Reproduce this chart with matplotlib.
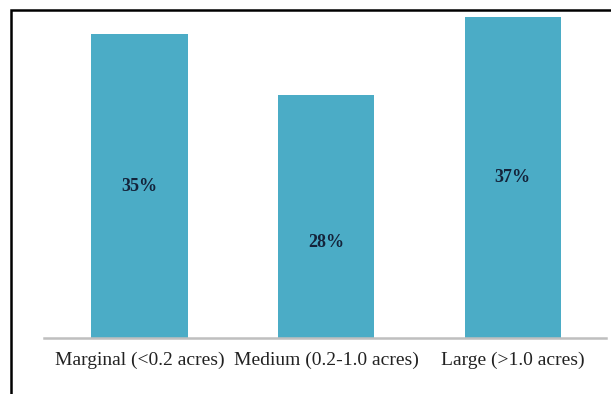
import matplotlib.pyplot as plt
from matplotlib.patches import Rectangle

# Data
categories = ["Marginal (<0.2 acres)", "Medium (0.2-1.0 acres)", "Large (>1.0 acres)"]
shares = [35, 28, 37]
labels = ["35%", "28%", "37%"]
label_y = [17.5, 11.0, 18.5]

fig = plt.figure(figsize=(6.11, 3.94), dpi=100)
ax = fig.add_axes([44 / 611, 56 / 394, 562 / 611, 321 / 394])

x = range(len(categories))
ax.bar(x, shares, width=0.515, color="#4BACC6")

for i, (lab, y) in enumerate(zip(labels, label_y)):
    ax.text(i, y, lab, ha="center", va="center", fontsize=13,
            family="Liberation Serif", fontweight="bold", color="#14233a")

ax.set_xlim(-0.512, 2.501)
ax.set_ylim(0, 37)
ax.set_xticks(list(x))
ax.set_xticklabels(categories, family="Liberation Serif", fontsize=14)
ax.tick_params(axis="x", length=0, pad=10, colors="#222222")
ax.set_yticks([])
for s in ["top", "right", "left"]:
    ax.spines[s].set_visible(False)
ax.spines["bottom"].set_color("#BFBFBF")
ax.spines["bottom"].set_linewidth(1.8)

# outer frame (left and top edges visible)
fig.patches.append(Rectangle((10.5 / 611, -0.1), 1.2, (394 - 10.5) / 394 + 0.1,
                             transform=fig.transFigure, fill=False,
                             edgecolor="black", linewidth=1.8))

fig.savefig("out.png", dpi=100)
